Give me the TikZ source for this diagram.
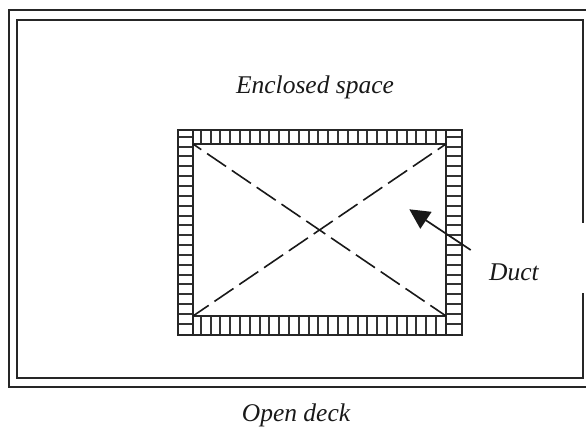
\documentclass[tikz,border=0pt]{standalone}
\usepackage{fontspec}
\setmainfont{Liberation Serif}
\usetikzlibrary{arrows.meta}
\tikzset{
  wall/.style={line width=2pt,color=black!85},
  tick/.style={line width=2pt,color=black!80},
  diag/.style={line width=1.6pt,color=black!90,dash pattern=on 23pt off 7pt,dash phase=13pt},
  pointer/.style={line width=1.7pt,color=black!90,-{Triangle[length=20pt,width=20pt]}},
  lab/.style={font=\fontsize{25.5}{28}\selectfont\itshape,color=black!90,inner sep=0pt,anchor=base}
}
\begin{document}
\begin{tikzpicture}[x=1pt,y=-1pt]
\useasboundingbox (0,0) rectangle (586,427);
\fill[white] (0,0) rectangle (586,427);
% outer and inner walls
\draw[wall] (586,10) -- (9,10) -- (9,387) -- (586,387);
\draw[wall] (583,222.7) -- (583,20) -- (17,20) -- (17,378) -- (583,378) -- (583,292.7);
% duct ticks
\foreach \k in {0,...,24} {
  \pgfmathsetmacro{\tx}{round(200.7+9.8*\k)}
  \draw[tick] (\tx,130) -- (\tx,144);
  \draw[tick] (\tx,316) -- (\tx,335);
}
\foreach \k in {0,...,19} {
  \pgfmathsetmacro{\ty}{round(136.7+9.85*\k)}
  \draw[tick] (178,\ty) -- (193,\ty);
  \draw[tick] (446,\ty) -- (462,\ty);
}
% duct outlines
\draw[wall] (178,130) rectangle (462,335);
\draw[wall] (193,144) rectangle (446,316);
\draw[wall] (193,130) -- (193,335);
\draw[wall] (446,130) -- (446,335);
% diagonals
\coordinate (tl) at (193,144);
\coordinate (tr) at (446,144);
\coordinate (bl) at (193,316);
\coordinate (br) at (446,316);
\draw[diag] (tl) -- (br);
\draw[diag] (tr) -- (bl);
% labels
\node[lab] (enc) at (315,94) {Enclosed space};
\node[lab] (duct) at (514,281) {Duct};
\node[lab] (deck) at (296,421) {Open deck};
% pointer
\coordinate (ptail) at (470.7,250);
\coordinate (ptip) at (409.3,209.3);
\draw[pointer] (ptail) -- (ptip);
\end{tikzpicture}
\end{document}
